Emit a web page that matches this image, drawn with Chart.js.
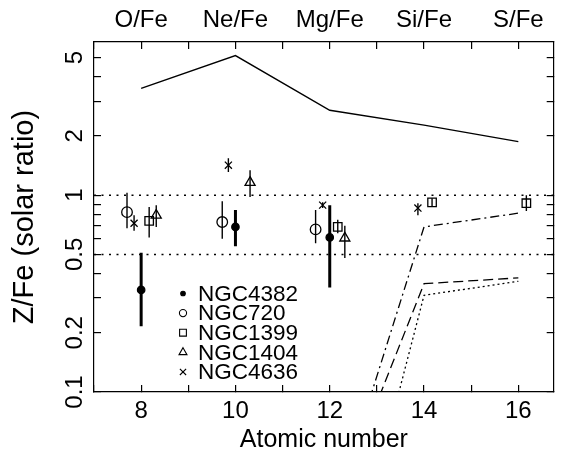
<!DOCTYPE html>
<html>
<head>
<meta charset="utf-8">
<script src="https://cdn.jsdelivr.net/npm/chart.js@4/dist/chart.umd.min.js"></script>
<style>
  html, body { margin: 0; padding: 0; background: #fff; }
  #wrap { width: 561px; height: 453px; }
</style>
</head>
<body>
<div id="wrap"><canvas id="chart" width="561" height="453"></canvas></div>
<script>
// ======= DATA =======
const elementLabels = ["O/Fe", "Ne/Fe", "Mg/Fe", "Si/Fe", "S/Fe"];
const elementZ = [8, 10, 12, 14, 16];
const xTicks = [7, 8, 9, 10, 11, 12, 13, 14, 15, 16];
const xLabelTicks = [8, 10, 12, 14, 16];
const yTicks = [0.1, 0.2, 0.3, 0.4, 0.5, 0.6, 0.7, 0.8, 0.9, 1, 2, 3, 4, 5];
const yLabelTicks = [0.1, 0.2, 0.5, 1, 2, 5];
const solarLevels = [1, 0.5];

// model curves
const modelSolid = [3.49, 5.12, 2.7, 2.27, 1.87];
const modelZ = [12, 14, 16];
const modelDashDot = [0.021, 0.69, 0.81];
const modelDashed = [0.022, 0.355, 0.38];
const modelDotted = [0.0044, 0.31, 0.365];

// measurements: value, lower and upper end of the error bar
const ngc4382Z = [8, 10, 12];
const ngc4382 = [0.33, 0.69, 0.61];
const ngc4382Lo = [0.216, 0.55, 0.34];
const ngc4382Hi = [0.51, 0.84, 0.89];

const ngc720Z = [7.7, 9.72, 11.7];
const ngc720 = [0.82, 0.73, 0.67];
const ngc720Lo = [0.68, 0.6, 0.57];
const ngc720Hi = [1.03, 0.93, 0.84];

const ngc1399Z = [8.17, 12.17, 14.17, 16.17];
const ngc1399 = [0.74, 0.69, 0.92, 0.91];
const ngc1399Lo = [0.61, 0.64, 0.87, 0.83];
const ngc1399Hi = [0.87, 0.75, 0.965, 1.0];

const ngc1404Z = [8.32, 10.31, 12.32];
const ngc1404 = [0.79, 1.16, 0.605];
const ngc1404Lo = [0.69, 0.98, 0.48];
const ngc1404Hi = [0.89, 1.34, 0.7];

const ngc4636Z = [7.85, 9.85, 11.85, 13.87];
const ngc4636 = [0.72, 1.42, 0.89, 0.86];
const ngc4636Lo = [0.66, 1.31, 0.86, 0.79];
const ngc4636Hi = [0.79, 1.54, 0.92, 0.91];

// ======= BUILD =======
const FONT = "'Liberation Sans', Arial, Helvetica, sans-serif";
Chart.defaults.font.family = FONT;
Chart.defaults.color = "#000";

const X_MIN = 7, X_MAX = 16.75;

const pts = (xs, ys) => xs.map((x, i) => ({ x, y: ys[i] }));
const bars = (xs, lo, hi) => {
  const out = [];
  xs.forEach((x, i) => {
    out.push({ x, y: lo[i] }, { x, y: hi[i] }, { x, y: null });
  });
  return out;
};

const galaxies = [
  { label: "NGC4382", z: ngc4382Z, v: ngc4382, lo: ngc4382Lo, hi: ngc4382Hi, style: "circle", r: 3.7, fill: "#000", bw: 3, lr: 2.3 },
  { label: "NGC720", z: ngc720Z, v: ngc720, lo: ngc720Lo, hi: ngc720Hi, style: "circle", r: 5.3, fill: "rgba(0,0,0,0)", bw: 1.4, lr: 3.6 },
  { label: "NGC1399", z: ngc1399Z, v: ngc1399, lo: ngc1399Lo, hi: ngc1399Hi, style: "rect", r: 6, fill: "rgba(0,0,0,0)", bw: 1.4, lr: 4.8 },
  { label: "NGC1404", z: ngc1404Z, v: ngc1404, lo: ngc1404Lo, hi: ngc1404Hi, style: "triangle", r: 5.8, fill: "rgba(0,0,0,0)", bw: 1.4, lr: 4.6 },
  { label: "NGC4636", z: ngc4636Z, v: ngc4636, lo: ngc4636Lo, hi: ngc4636Hi, style: "crossRot", r: 5, fill: "rgba(0,0,0,0)", bw: 1.4, lr: 4.4 },
];

const lineSet = (data, dash, width) => ({
  type: "line",
  data,
  borderColor: "#000",
  borderWidth: width,
  borderDash: dash,
  pointRadius: 0,
  fill: false,
  tension: 0,
});

const datasets = [];
solarLevels.forEach((lvl) => {
  datasets.push(lineSet([{ x: X_MIN, y: lvl }, { x: X_MAX, y: lvl }], [2, 5.5], 1.5));
});
datasets.push(lineSet(pts(elementZ, modelSolid), [], 1.4));
datasets.push(lineSet(pts(modelZ, modelDashDot), [9, 4, 2, 4], 1.3));
datasets.push(lineSet(pts(modelZ, modelDashed), [10, 5], 1.3));
datasets.push(lineSet(pts(modelZ, modelDotted), [2, 3], 1.3));

galaxies.forEach((g) => {
  datasets.push({
    type: "line",
    data: bars(g.z, g.lo, g.hi),
    borderColor: "#000",
    borderWidth: g.bw,
    pointRadius: 0,
    spanGaps: false,
    fill: false,
  });
  datasets.push({
    type: "line",
    label: g.label,
    legendMarker: g,
    data: pts(g.z, g.v),
    showLine: false,
    pointStyle: g.style,
    pointRadius: g.r,
    pointBorderWidth: 1.3,
    pointBorderColor: "#000",
    pointBackgroundColor: g.fill,
  });
});

// legend drawn inside the plot
const legendBox = {
  id: "legendBox",
  afterDatasetsDraw(chart) {
    const ctx = chart.ctx;
    const x0 = 183, y0 = 293.5, step = 19.6;
    ctx.save();
    ctx.font = "22.5px " + FONT;
    ctx.textBaseline = "middle";
    ctx.textAlign = "left";
    let row = 0;
    chart.data.datasets.forEach((ds) => {
      if (!ds.legendMarker) return;
      const g = ds.legendMarker;
      const y = y0 + row * step;
      ctx.strokeStyle = "#000";
      ctx.fillStyle = g.fill;
      ctx.lineWidth = 1.1;
      Chart.helpers.drawPoint(ctx, { pointStyle: g.style, radius: g.lr, borderWidth: 1.1, rotation: 0 }, x0, y);
      ctx.fillStyle = "#000";
      ctx.fillText(ds.label, 198, y + 1);
      row++;
    });
    ctx.restore();
  },
};

const axisLook = {
  grid: { drawOnChartArea: false, tickLength: -7, color: "#000", tickColor: "#000", lineWidth: 1.2 },
  border: { color: "#000", width: 1.2 },
};

new Chart(document.getElementById("chart"), {
  type: "scatter",
  data: { datasets },
  options: {
    responsive: false,
    animation: false,
    layout: { padding: 0 },
    plugins: { legend: { display: false }, tooltip: { enabled: false } },
    scales: {
      x: {
        type: "linear",
        position: "bottom",
        min: X_MIN,
        max: X_MAX,
        ...axisLook,
        afterBuildTicks: (s) => { s.ticks = xTicks.map((v) => ({ value: v })); },
        afterFit: (s) => { s.height = 61; },
        ticks: {
          autoSkip: false,
          maxRotation: 0,
          padding: 12,
          font: { size: 24 },
          callback: (v) => (xLabelTicks.includes(v) ? String(v) : ""),
        },
        title: { display: true, text: "Atomic number", font: { size: 25, lineHeight: 1 }, padding: 0 },
      },
      x2: {
        type: "linear",
        position: "top",
        min: X_MIN,
        max: X_MAX,
        ...axisLook,
        afterBuildTicks: (s) => { s.ticks = xTicks.map((v) => ({ value: v })); },
        afterFit: (s) => { s.height = 42; },
        ticks: {
          autoSkip: false,
          maxRotation: 0,
          padding: 14,
          font: { size: 24 },
          callback: (v) => {
            const i = elementZ.indexOf(v);
            return i >= 0 ? elementLabels[i] : "";
          },
        },
      },
      y: {
        type: "logarithmic",
        position: "left",
        min: 0.1,
        max: 6,
        ...axisLook,
        afterBuildTicks: (s) => { s.ticks = yTicks.map((v) => ({ value: v })); },
        afterFit: (s) => { s.width = 94; },
        ticks: {
          autoSkip: false,
          minRotation: 90,
          maxRotation: 90,
          crossAlign: "center",
          padding: 9,
          font: { size: 24 },
          callback: (v) => (yLabelTicks.includes(v) ? String(v) : ""),
        },
        title: { display: true, text: "Z/Fe (solar ratio)", font: { size: 29, lineHeight: 1 }, padding: { top: 10, bottom: 0 } },
      },
      y2: {
        type: "logarithmic",
        position: "right",
        min: 0.1,
        max: 6,
        ...axisLook,
        afterBuildTicks: (s) => { s.ticks = yTicks.map((v) => ({ value: v })); },
        afterFit: (s) => { s.width = 4; },
        ticks: { autoSkip: false, padding: 0, callback: () => "" },
      },
    },
  },
  plugins: [legendBox],
});
</script>
</body>
</html>
